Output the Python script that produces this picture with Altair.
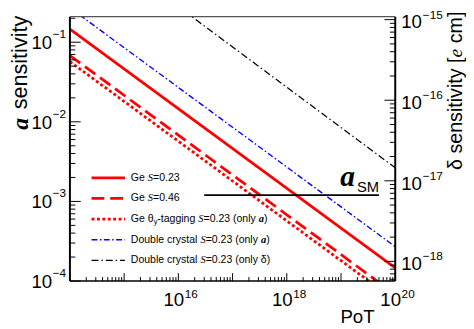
import altair as alt
import pandas as pd

# ---------------- data ----------------
pot = [1e14, 1e20]
ge_s023 = [0.146, 1.46e-4]      # Ge S=0.23
ge_s046 = [0.068, 6.8e-5]       # Ge S=0.46
ge_theta = [0.057, 5.7e-5]      # Ge theta_y-tagging S=0.23 (only a)
dc_a = [0.27, 2.7e-4]           # Double crystal S=0.23 (only a)
dc_delta = [1.45e-14, 1.45e-17] # Double crystal S=0.23 (only delta)  [right axis]
a_sm_value = 1.2e-3
a_sm_pot = [3e16, 5e19]

x_ticklabel_values = [1e16, 1e18, 1e20]
x_ticklabel_exps = ["16", "18", "20"]
ya_ticklabel_values = [1e-1, 1e-2, 1e-3, 1e-4]
ya_ticklabel_exps = ["\u22121", "\u22122", "\u22123", "\u22124"]
yd_ticklabel_values = [1e-15, 1e-16, 1e-17, 1e-18]
yd_ticklabel_exps = ["\u221215", "\u221216", "\u221217", "\u221218"]

legend_labels = [
    [("Ge ", "n"), ("S", "i"), ("=0.23", "n")],
    [("Ge ", "n"), ("S", "i"), ("=0.46", "n")],
    [("Ge \u03b8", "n"), ("y", "sub"), ("-tagging ", "n"), ("S", "i"), ("=0.23 (only ", "n"), ("a", "bi"), (")", "n")],
    [("Double crystal ", "n"), ("S", "i"), ("=0.23 (only ", "n"), ("a", "bi"), (")", "n")],
    [("Double crystal ", "n"), ("S", "i"), ("=0.23 (only \u03b4)", "n")],
]

# ---------------- layout / style ----------------
W, H = 331, 269
SANS = "Liberation Sans"
SERIF = "Liberation Serif"
RED, BLUE = "#ff0000", "#0000ff"

XS = alt.Scale(type="log", domain=[1e14, 1e20], nice=False)
YA = alt.Scale(type="log", domain=[1e-4, 10 ** -0.679], nice=False)
YD = alt.Scale(type="log", domain=[10 ** -18.244, 10 ** -14.963], nice=False)

DUMMY = pd.DataFrame({"d": [0]})

W_SANS = {' ': 278, '(': 333, ')': 333, '-': 333, '.': 278, '=': 584, '[': 278, ']': 278,
          '\u03b4': 556, '\u03b8': 556, 'D': 722, 'G': 778, 'S': 667, 'M': 833, 'P': 667,
          'T': 611, 'a': 556, 'b': 556, 'c': 500, 'e': 556, 'g': 556, 'i': 222, 'l': 222,
          'n': 556, 'o': 556, 'r': 333, 's': 500, 't': 278, 'u': 556, 'y': 500, 'm': 833,
          'v': 500, 'k': 500}
W_SERIF = {'S': 500, 'e': 444, 'a': 500, ' ': 250}


def tw(s, style, size):
    table = W_SANS if style in ("n", "sub") else W_SERIF
    return sum(table.get(c, 556) for c in s) * size / 1000.0


def text_layer(txt, x, y, size, style="n", align="left", baseline="middle", angle=None, color="black"):
    props = dict(text=txt, fontSize=size, align=align, baseline=baseline, color=color,
                 font=SANS if style in ("n", "sub") else SERIF)
    if style == "i":
        props["fontStyle"] = "italic"
    if style == "bi":
        props["fontStyle"] = "italic"
        props["fontWeight"] = "bold"
    if angle is not None:
        props["angle"] = angle
    return alt.Chart(DUMMY).mark_text(**props).encode(x=alt.value(x), y=alt.value(y))


def row_layers(segs, x0, y, size):
    out = []
    x = x0
    for s, st in segs:
        sz = size * 0.7 if st == "sub" else size
        lead = len(s) - len(s.lstrip())
        core = s.strip()
        if core:
            out.append(text_layer(core, x + tw(s[:lead], st, sz), y + (3 if st == "sub" else 0), sz, st))
        x += tw(s, st, sz)
    return out


def series_line(vals, scale, color, width, dash=None):
    df = pd.DataFrame({"pot": pot, "val": vals})
    kw = dict(color=color, strokeWidth=width, clip=True)
    if dash:
        kw["strokeDash"] = dash
    return alt.Chart(df).mark_line(**kw).encode(
        x=alt.X("pot:Q", scale=XS, axis=None),
        y=alt.Y("val:Q", scale=scale, axis=None),
    )


def decade_ticks(lo, hi):
    major, minor = [], []
    for n in range(lo, hi + 1):
        major.append(10.0 ** n)
        for k in range(2, 10):
            minor.append(k * 10.0 ** n)
    return major, minor


# ---------------- left (a) group ----------------
left_layers = [
    series_line(dc_a, YA, BLUE, 1.4, [6, 2.5, 1.5, 2.5]),
    series_line(ge_s023, YA, RED, 2.8),
    series_line(ge_s046, YA, RED, 2.8, [13, 6]),
    series_line(ge_theta, YA, RED, 2.8, [3, 2.5]),
]

asm_df = pd.DataFrame({"pot": a_sm_pot, "val": [a_sm_value] * 2})
left_layers.append(
    alt.Chart(asm_df).mark_line(color="black", strokeWidth=2).encode(
        x=alt.X("pot:Q", scale=XS, axis=None), y=alt.Y("val:Q", scale=YA, axis=None))
)

# bottom ticks (inside)
xmaj, xmin = decade_ticks(14, 19)
xmaj = [v for v in xmaj if 1e14 <= v <= 1e20] + [1e20]
xmin = [v for v in xmin if 1e14 <= v <= 1e20]
for vals, ln in ((xmaj, 8), (xmin, 4)):
    left_layers.append(
        alt.Chart(pd.DataFrame({"t": vals})).mark_rule(color="black", strokeWidth=1).encode(
            x=alt.X("t:Q", scale=XS, axis=None), y=alt.value(H), y2=alt.value(H - ln))
    )
# left ticks (inside)
amaj, amin = decade_ticks(-4, -1)
amin = [v for v in amin if v <= 10 ** -0.679]
for vals, ln in ((amaj, 11), (amin, 5.5)):
    left_layers.append(
        alt.Chart(pd.DataFrame({"t": vals})).mark_rule(color="black", strokeWidth=1).encode(
            y=alt.Y("t:Q", scale=YA, axis=None), x=alt.value(0), x2=alt.value(ln))
    )

# bottom tick labels
xl = pd.DataFrame({"v": x_ticklabel_values, "e": x_ticklabel_exps})
left_layers.append(alt.Chart(xl).mark_text(text="10", font=SANS, fontSize=19, align="right",
                                           baseline="alphabetic", dx=6, color="black").encode(
    x=alt.X("v:Q", scale=XS, axis=None), y=alt.value(294)))
left_layers.append(alt.Chart(xl).mark_text(font=SANS, fontSize=12, align="left",
                                           baseline="alphabetic", dx=6.5, color="black").encode(
    x=alt.X("v:Q", scale=XS, axis=None), y=alt.value(286), text="e:N"))
# left tick labels
yl = pd.DataFrame({"v": ya_ticklabel_values, "e": ya_ticklabel_exps})
left_layers.append(alt.Chart(yl).mark_text(text="10", font=SANS, fontSize=19, align="right",
                                           baseline="middle", dy=1, color="black").encode(
    y=alt.Y("v:Q", scale=YA, axis=None), x=alt.value(-18)))
left_layers.append(alt.Chart(yl).mark_text(font=SANS, fontSize=12, align="left",
                                           baseline="middle", dy=-8, color="black").encode(
    y=alt.Y("v:Q", scale=YA, axis=None), x=alt.value(-17.5), text="e:N"))

left_group = alt.layer(*left_layers)

# ---------------- right (delta) group ----------------
right_layers = [series_line(dc_delta, YD, "black", 1.3, [7, 3, 1.5, 3])]
dmaj, dmin = decade_ticks(-19, -15)
dmaj = [v for v in dmaj if 10 ** -18.244 <= v <= 10 ** -14.963]
dmin = [v for v in dmin if 10 ** -18.244 <= v <= 10 ** -14.963]
for vals, ln in ((dmaj, 11), (dmin, 5.5)):
    right_layers.append(
        alt.Chart(pd.DataFrame({"t": vals})).mark_rule(color="black", strokeWidth=1).encode(
            y=alt.Y("t:Q", scale=YD, axis=None), x=alt.value(W), x2=alt.value(W - ln))
    )
dl = pd.DataFrame({"v": yd_ticklabel_values, "e": yd_ticklabel_exps})
right_layers.append(alt.Chart(dl).mark_text(text="10", font=SANS, fontSize=19, align="left",
                                            baseline="middle", dy=3, color="black").encode(
    y=alt.Y("v:Q", scale=YD, axis=None), x=alt.value(337)))
right_layers.append(alt.Chart(dl).mark_text(font=SANS, fontSize=12, align="left",
                                            baseline="middle", dy=-5, color="black").encode(
    y=alt.Y("v:Q", scale=YD, axis=None), x=alt.value(359), text="e:N"))
right_group = alt.layer(*right_layers)

# ---------------- frame ----------------
frame = [
    alt.Chart(DUMMY).mark_rule(color="black", strokeWidth=2).encode(x=alt.value(0), y=alt.value(0), y2=alt.value(H)),
    alt.Chart(DUMMY).mark_rule(color="black", strokeWidth=2).encode(x=alt.value(W), y=alt.value(0), y2=alt.value(H)),
    alt.Chart(DUMMY).mark_rule(color="black", strokeWidth=1.6).encode(y=alt.value(H), x=alt.value(0), x2=alt.value(W)),
    alt.Chart(DUMMY).mark_rule(color="#555555", strokeWidth=1.2).encode(y=alt.value(0), x=alt.value(0), x2=alt.value(W)),
]

# ---------------- legend ----------------
legend_styles = [
    dict(color=RED, strokeWidth=2.8),
    dict(color=RED, strokeWidth=2.8, strokeDash=[13, 6]),
    dict(color=RED, strokeWidth=2.8, strokeDash=[3, 2.5]),
    dict(color=BLUE, strokeWidth=1.4, strokeDash=[6, 2.5, 1.5, 2.5]),
    dict(color="black", strokeWidth=1.3, strokeDash=[7, 3, 1.5, 3]),
]
legend = []
for i, (segs, st) in enumerate(zip(legend_labels, legend_styles)):
    ry = 164 + 21 * i
    legend.append(alt.Chart(DUMMY).mark_rule(**st).encode(x=alt.value(22), x2=alt.value(56), y=alt.value(ry)))
    legend.extend(row_layers(segs, 62, ry, 10.7))

# ---------------- titles / annotations ----------------
titles = []
# left axis title: bold-italic a + sensitivity (rotated)
titles.append(text_layer("sensitivity", -44, -1, 22, "n", align="right", baseline="alphabetic", angle=270))
titles.append(text_layer("a", -43, 109, 24, "bi", align="center", baseline="alphabetic", angle=270))
# right axis title
rs = 20
y0 = 156
seg1 = "\u03b4 sensitivity ["
w1 = tw(seg1, "n", rs)
titles.append(text_layer(seg1, 399, y0, rs, "n", align="left", baseline="alphabetic", angle=270))
titles.append(text_layer("e", 399, y0 - w1, rs, "i", align="left", baseline="alphabetic", angle=270))
w2 = tw("e", "i", rs) + tw(" ", "n", rs)
titles.append(text_layer("cm]", 399, y0 - w1 - w2, rs, "n", align="left", baseline="alphabetic", angle=270))
# x title
titles.append(text_layer("PoT", 310, 312, 19, "n", align="right", baseline="alphabetic"))
# a_SM label
titles.append(text_layer("a", 275, 172, 30, "bi", align="left", baseline="alphabetic"))
titles.append(text_layer("SM", 292, 178, 15, "n", align="left", baseline="alphabetic"))

chart = alt.layer(left_group, right_group, *frame, *legend, *titles).resolve_scale(
    y="independent"
).properties(
    width=W, height=H,
    padding={"left": 63, "top": 6, "right": 72, "bottom": 46},
    autosize=alt.AutoSizeParams(type="none"),
).configure_view(stroke=None)

chart.save("out.html", embed_options={"renderer": "svg", "actions": False})
